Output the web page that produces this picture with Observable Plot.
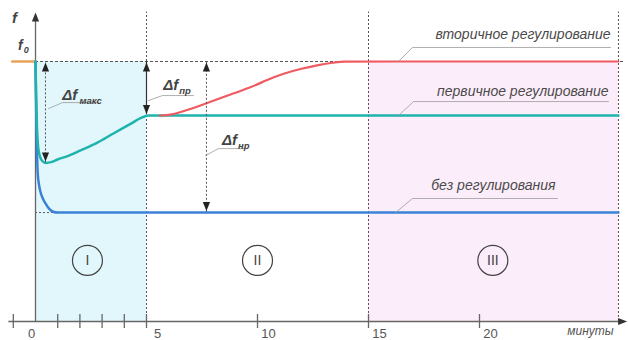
<!DOCTYPE html>
<html><head><meta charset="utf-8">
<script src="https://cdn.jsdelivr.net/npm/d3@7"></script>
<script src="https://cdn.jsdelivr.net/npm/@observablehq/plot@0.6"></script>
<style>body{margin:0;background:#fff;}</style>
</head><body><div id="chart"></div>
<script>
// ---- data (minutes, relative frequency units; f0 = 10) ----
const f0 = 10;
const noRegT = [0, 0.03, 0.06, 0.1, 0.16, 0.22, 0.32, 0.45, 0.6, 0.8, 1.0, 26.26];
const noRegF = [10, 8.2, 6.8, 5.7, 5.25, 5.0, 4.75, 4.54, 4.35, 4.22, 4.19, 4.19];
const primT = [0, 0.03, 0.07, 0.12, 0.2, 0.32, 0.48, 0.7, 0.99, 1.5, 2.03, 2.79, 3.51, 4.28, 4.73, 5.1, 5.4, 26.26];
const primF = [10, 8.6, 7.4, 6.7, 6.35, 6.16, 6.1, 6.13, 6.23, 6.38, 6.58, 6.88, 7.23, 7.6, 7.82, 7.92, 7.92, 7.92];
const secT = [5.6, 6.1, 6.8, 7.66, 8.6, 9.68, 10.4, 11.17, 12.0, 12.7, 13.3, 13.9, 14.5, 26.26];
const secF = [7.92, 7.94, 8.12, 8.38, 8.68, 9.0, 9.28, 9.54, 9.73, 9.86, 9.95, 10.0, 10.0, 10.0];
const zoneNames = ["I", "II", "III"];
const zoneBounds = [0, 5, 15, 26.26];
const majorTicks = [0, 5, 10, 15, 20];
const tickLabels = ["0", "5", "10", "15", "20"];
const minorTicks = [-1, 1, 2, 3, 4];
const seriesNames = ["вторичное регулирование", "первичное регулирование", "без регулирования"];
const deltaNames = ["макс", "пр", "нр"];

const pts = (T, F) => T.map((t, i) => ({t, f: F[i]}));
const tipUp = {draw(ctx) { ctx.moveTo(0, 0); ctx.lineTo(-3.6, 9); ctx.lineTo(3.6, 9); ctx.closePath(); }};
const dashC = "#555";
const leaderC = "#9a9a9a";
const txtC = "#555";

const chart = Plot.plot({
  width: 628, height: 340, margin: 0,
  x: {domain: [-35/22.2, 593/22.2], axis: null},
  y: {domain: [-19/26, 321/26], axis: null},
  style: {fontFamily: "'Liberation Sans', Arial, sans-serif", background: "#fff"},
  marks: [
    // zone backgrounds
    Plot.rect([{x1: zoneBounds[0], x2: zoneBounds[1]}], {x1: "x1", x2: "x2", y1: 0, y2: f0, fill: "#e2f7fb"}),
    Plot.rect([{x1: zoneBounds[2], x2: zoneBounds[3]}], {x1: "x1", x2: "x2", y1: 0, y2: f0, fill: "#fcedfa"}),
    // zone boundaries
    Plot.ruleX(zoneBounds.slice(1), {y1: 0, y2: 11.9, stroke: dashC, strokeDasharray: "2,2", strokeWidth: 1}),
    // f0 reference dashed line
    Plot.ruleY([f0], {x1: 0, x2: 26.5, stroke: dashC, strokeDasharray: "3,2", strokeWidth: 1}),
    Plot.ruleY([noRegF[noRegF.length - 1]], {x1: 0, x2: 0.9, stroke: dashC, strokeDasharray: "2,2", strokeWidth: 1}),
    // axes
    Plot.ruleY([0], {x1: -1.2, x2: 26.4, stroke: "#666", strokeWidth: 1.3}),
    Plot.ruleX([0], {y1: 0, y2: 11.6, stroke: "#666", strokeWidth: 1.3}),
    Plot.dot([{t: 26.65, f: 0}], {x: "t", y: "f", symbol: tipUp, rotate: 90, fill: "#333", stroke: null}),
    Plot.dot([{t: 0, f: 11.88}], {x: "t", y: "f", symbol: tipUp, fill: "#333", stroke: null}),
    Plot.ruleX(majorTicks.slice(1).concat(minorTicks), {y1: -0.27, y2: 0.27, stroke: "#666", strokeWidth: 1.3}),
    Plot.text(majorTicks.slice(0, 1), {x: d => d, y: -0.47, text: (d, i) => tickLabels[i], fill: txtC, fontSize: 13, dx: -4}),
    Plot.text(majorTicks.slice(1), {x: d => d, y: -0.47, text: (d, i) => tickLabels[i + 1], fill: txtC, fontSize: 13, dx: 11}),
    Plot.text(["минуты"], {x: 25.0, y: -0.36, text: d => d, fill: txtC, fontSize: 12, fontStyle: "italic"}),
    Plot.text(["f"], {x: -0.95, y: 11.65, text: d => d, fill: "#444", fontSize: 15, fontStyle: "italic", fontWeight: "bold"}),
    Plot.text(["f"], {x: -0.68, y: 10.6, text: d => d, fill: "#444", fontSize: 14, fontStyle: "italic", fontWeight: "bold"}),
    Plot.text(["0"], {x: -0.42, y: 10.45, text: d => d, fill: "#444", fontSize: 9, fontStyle: "italic", fontWeight: "bold"}),
    // orange pre-disturbance line
    Plot.line([{t: -1.05, f: f0}, {t: 0, f: f0}], {x: "t", y: "f", stroke: "#e8a45a", strokeWidth: 2.5}),
    // series curves
    Plot.line(pts(noRegT, noRegF), {x: "t", y: "f", stroke: "#3b82d6", strokeWidth: 2.5, curve: "monotone-x"}),
    Plot.line(pts(primT, primF), {x: "t", y: "f", stroke: "#1fb3ad", strokeWidth: 2.5, curve: "monotone-x"}),
    Plot.line(pts(secT, secF), {x: "t", y: "f", stroke: "#ef5b60", strokeWidth: 2.2, curve: "basis"}),
    // delta arrows
    Plot.ruleX([0.45], {y1: 6.1, y2: f0, stroke: dashC, strokeDasharray: "2,2", strokeWidth: 1}),
    Plot.ruleX([5], {y1: 7.95, y2: f0, stroke: "#333", strokeWidth: 1.2}),
    Plot.ruleX([7.7], {y1: 4.2, y2: f0, stroke: dashC, strokeDasharray: "2,2", strokeWidth: 1}),
    Plot.dot([{t: 0.45, f: f0}, {t: 5, f: f0}, {t: 7.7, f: f0}], {x: "t", y: "f", symbol: tipUp, fill: "#222", stroke: null, dy: 1}),
    Plot.dot([{t: 0.45, f: 6.1}, {t: 5, f: 7.92}, {t: 7.7, f: 4.19}], {x: "t", y: "f", symbol: tipUp, rotate: 180, fill: "#222", stroke: null, dy: -1.5}),
    // delta labels & leaders
    Plot.line([[0.59, 8.19], [1.22, 8.42], [2.84, 8.42]], {stroke: leaderC, strokeWidth: 0.8}),
    Plot.line([[5.09, 8.5], [5.72, 8.69], [7.12, 8.69]], {stroke: leaderC, strokeWidth: 0.8}),
    Plot.line([[7.66, 6.38], [8.24, 6.65], [9.55, 6.65]], {stroke: leaderC, strokeWidth: 0.8}),
    Plot.text([[1.2, 8.72], [5.75, 9.08], [8.4, 6.98]], {text: () => "Δf", fill: "#444", fontSize: 15, fontStyle: "italic", fontWeight: "bold", textAnchor: "start"}),
    Plot.text([[1.98, 8.5], [6.47, 8.86], [9.12, 6.76]], {text: (d, i) => deltaNames[i], fill: "#444", fontSize: 9.5, fontStyle: "italic", fontWeight: "bold", textAnchor: "start"}),
    // series labels & leaders
    Plot.line([[16.35, 10], [16.98, 10.54], [25.9, 10.54]], {stroke: leaderC, strokeWidth: 0.8}),
    Plot.line([[16.35, 7.92], [17.03, 8.46], [25.81, 8.46]], {stroke: leaderC, strokeWidth: 0.8}),
    Plot.line([[16.22, 4.19], [16.98, 4.73], [23.51, 4.73]], {stroke: leaderC, strokeWidth: 0.8}),
    Plot.text([[25.9, 11.04], [25.81, 8.85], [23.42, 5.23]], {text: (d, i) => seriesNames[i], fill: "#4a4a4a", fontSize: 14, fontStyle: "italic", textAnchor: "end"}),
    // zone markers
    Plot.dot([[2.34, 2.35], [10, 2.35], [20.6, 2.35]], {r: 15, stroke: "#444", strokeWidth: 1.2, fill: "none"}),
    Plot.text([[2.34, 2.35], [10, 2.35], [20.6, 2.35]], {text: (d, i) => zoneNames[i], fill: "#444", fontSize: 14})
  ]
});
document.getElementById("chart").append(chart);
</script>
</body></html>
